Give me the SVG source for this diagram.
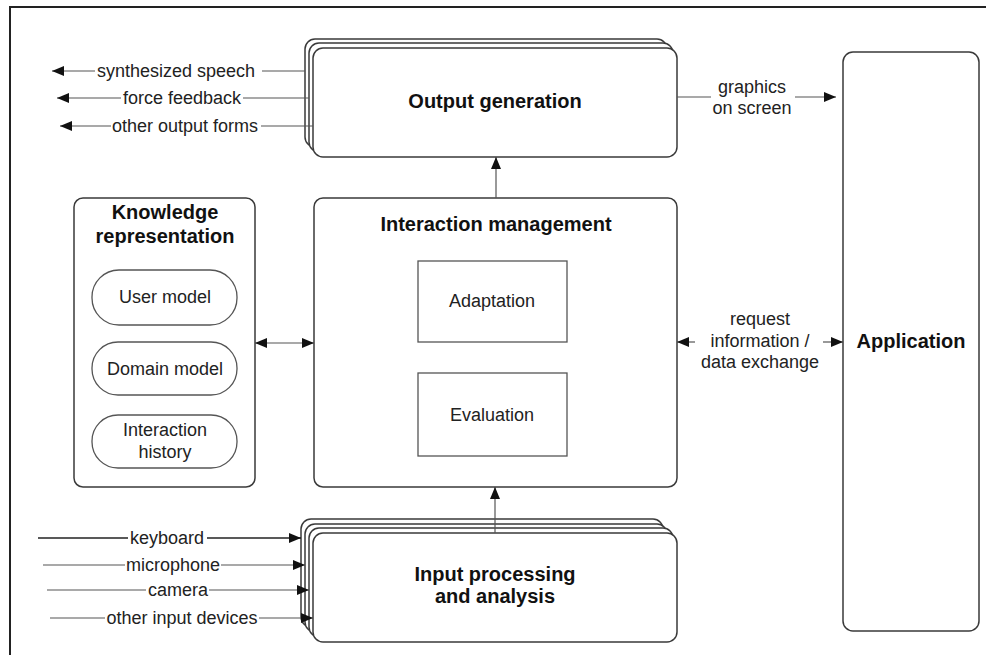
<svg xmlns="http://www.w3.org/2000/svg" width="986" height="655" viewBox="0 0 986 655">
  <style>
    .box { fill: #fff; stroke: #3a3a3a; stroke-width: 1.5; }
    .inner { fill: #fff; stroke: #555; stroke-width: 1.3; }
    .line { fill: none; stroke: #555; stroke-width: 1.2; }
    .dark { stroke: #222; stroke-width: 1.5; }
    .frame { fill: none; stroke: #222; stroke-width: 2; }
    text { font-family: "Liberation Sans", Arial, sans-serif; fill: #222; text-anchor: middle; }
    .lbl { font-size: 18px; }
    .title { font-size: 20px; font-weight: bold; fill: #111; }
  </style>
  <defs>
    <marker id="arr" markerUnits="userSpaceOnUse" markerWidth="12" markerHeight="10" viewBox="0 0 12 10" refX="12" refY="5" orient="auto-start-reverse">
      <path d="M0,0 L12,5 L0,10 z" fill="#111"/>
    </marker>
  </defs>

  <rect width="986" height="655" fill="#fff"/>
  <path class="frame" d="M10,660 V7 H990"/>

  <!-- Output generation (stacked) -->
  <g id="output-generation">
    <rect class="box" x="305" y="39" width="362" height="108" rx="10"/>
    <rect class="box" x="309" y="43" width="364" height="109" rx="10"/>
    <rect class="box" x="313" y="48" width="364" height="109" rx="10"/>
    <text class="title" x="495" y="108">Output generation</text>
  </g>

  <!-- Knowledge representation -->
  <g id="knowledge-representation">
    <rect class="box" x="74" y="198" width="181" height="289" rx="9"/>
    <text class="title" x="165" y="219">Knowledge</text>
    <text class="title" x="165" y="243">representation</text>
    <g id="user-model">
      <rect class="inner" x="92" y="270" width="145" height="55" rx="27"/>
      <text class="lbl" x="165" y="303">User model</text>
    </g>
    <g id="domain-model">
      <rect class="inner" x="92" y="342" width="145" height="53" rx="26"/>
      <text class="lbl" x="165" y="375">Domain model</text>
    </g>
    <g id="interaction-history">
      <rect class="inner" x="92" y="415" width="145" height="53" rx="26"/>
      <text class="lbl" x="165" y="436">Interaction</text>
      <text class="lbl" x="165" y="458">history</text>
    </g>
  </g>

  <!-- Interaction management -->
  <g id="interaction-management">
    <rect class="box" x="314" y="198" width="363" height="289" rx="9"/>
    <text class="title" x="496" y="231">Interaction management</text>
    <g id="adaptation">
      <rect class="inner" x="418" y="261" width="149" height="81"/>
      <text class="lbl" x="492" y="307">Adaptation</text>
    </g>
    <g id="evaluation">
      <rect class="inner" x="418" y="373" width="149" height="83"/>
      <text class="lbl" x="492" y="421">Evaluation</text>
    </g>
  </g>

  <!-- Input processing and analysis (stacked) -->
  <g id="input-processing">
    <rect class="box" x="301" y="519" width="362" height="108" rx="10"/>
    <rect class="box" x="305" y="524" width="362" height="108" rx="10"/>
    <rect class="box" x="309" y="528" width="364" height="109" rx="10"/>
    <rect class="box" x="313" y="533" width="364" height="109" rx="10"/>
    <text class="title" x="495" y="581">Input processing</text>
    <text class="title" x="495" y="603">and analysis</text>
  </g>

  <!-- Application -->
  <g id="application">
    <rect class="box" x="843" y="52" width="136" height="579" rx="10"/>
    <text class="title" x="911" y="348">Application</text>
  </g>

  <!-- Connectors -->
  <g id="connectors">
    <!-- outputs -->
    <path class="line" d="M52,71 H95" marker-start="url(#arr)"/>
    <path class="line" d="M262,71 H305"/>
    <path class="line" d="M57,98 H121" marker-start="url(#arr)"/>
    <path class="line" d="M243,98 H309"/>
    <path class="line" d="M60,126 H111" marker-start="url(#arr)"/>
    <path class="line" d="M261,126 H313"/>

    <!-- graphics on screen -->
    <path class="line" d="M677,97 H711"/>
    <path class="line" d="M795,97 H836" marker-end="url(#arr)"/>

    <!-- vertical flows -->
    <path class="line" d="M496,198 V157" marker-end="url(#arr)"/>
    <path class="line" d="M495,533 V487" marker-end="url(#arr)"/>

    <!-- knowledge <-> interaction management -->
    <path class="line" d="M255,343 H314" marker-start="url(#arr)" marker-end="url(#arr)"/>

    <!-- request information / data exchange -->
    <path class="line" d="M677,342 H695" marker-start="url(#arr)"/>
    <path class="line" d="M823,342 H843" marker-end="url(#arr)"/>

    <!-- inputs -->
    <path class="line dark" d="M38,538 H128"/>
    <path class="line dark" d="M207,538 H301" marker-end="url(#arr)"/>
    <path class="line" d="M43,565 H125"/>
    <path class="line" d="M221,565 H305" marker-end="url(#arr)"/>
    <path class="line" d="M47,590 H146"/>
    <path class="line" d="M209,590 H309" marker-end="url(#arr)"/>
    <path class="line" d="M50,618 H105"/>
    <path class="line" d="M259,618 H313" marker-end="url(#arr)"/>
  </g>

  <!-- connector labels -->
  <g id="connector-labels">
    <text class="lbl" x="176" y="77">synthesized speech</text>
    <text class="lbl" x="182" y="104">force feedback</text>
    <text class="lbl" x="185" y="132">other output forms</text>
    <text class="lbl" x="752" y="93">graphics</text>
    <text class="lbl" x="752" y="114">on screen</text>
    <text class="lbl" x="760" y="325">request</text>
    <text class="lbl" x="760" y="347">information /</text>
    <text class="lbl" x="760" y="368">data exchange</text>
    <text class="lbl" x="167" y="544">keyboard</text>
    <text class="lbl" x="173" y="571">microphone</text>
    <text class="lbl" x="178" y="596">camera</text>
    <text class="lbl" x="182" y="624">other input devices</text>
  </g>
</svg>
